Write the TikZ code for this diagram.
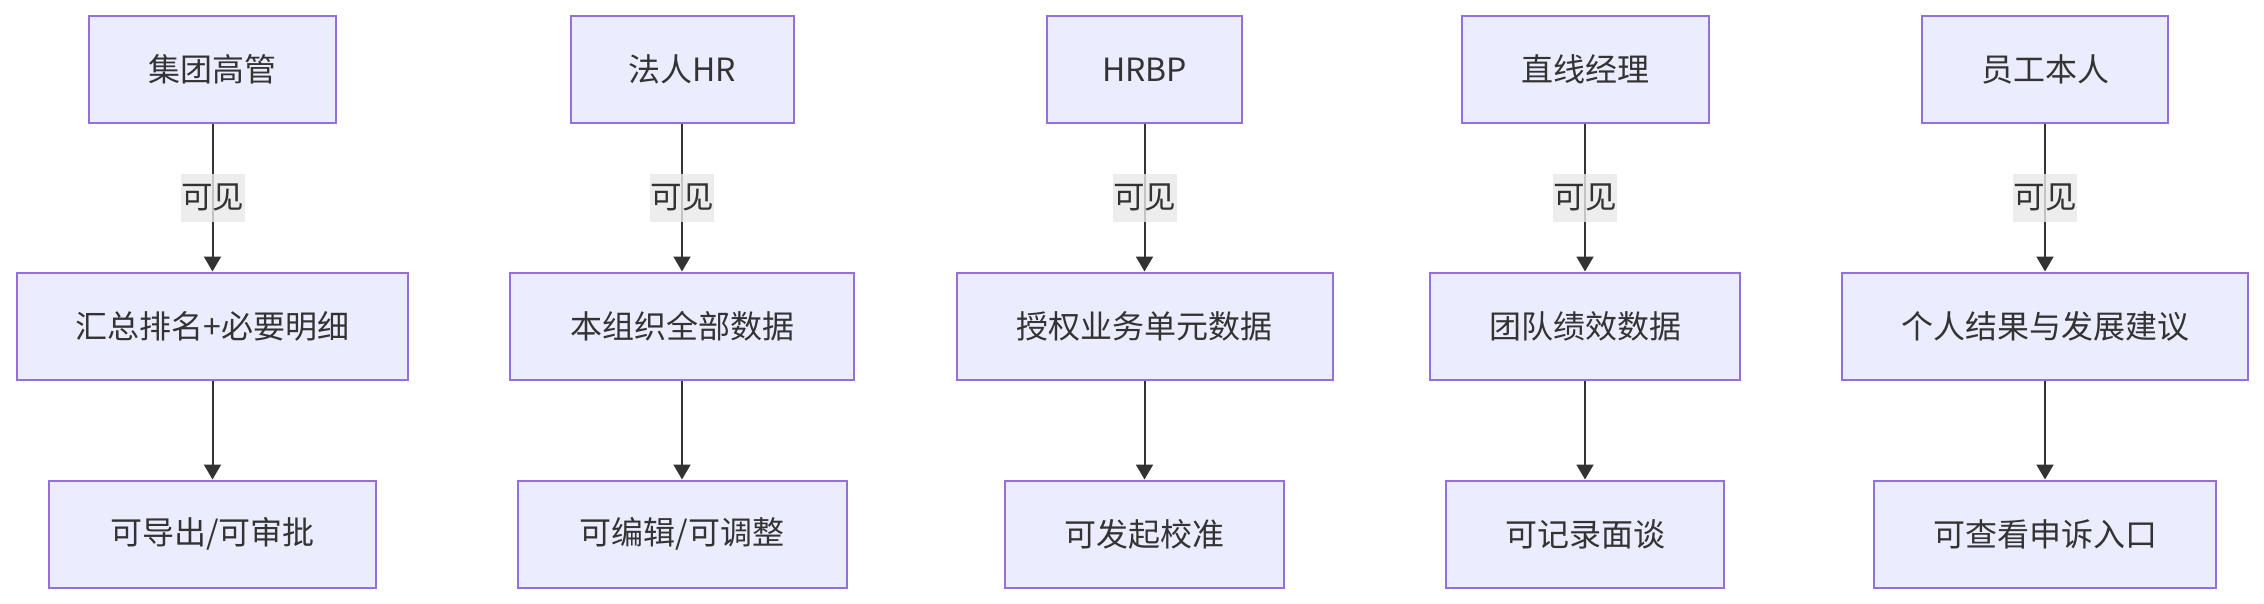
\documentclass[tikz,border=0pt]{standalone}
\usepackage{fontspec}
\setmainfont{Noto Sans CJK SC}
\usetikzlibrary{arrows.meta}
\definecolor{boxfill}{HTML}{ECECFF}
\definecolor{boxline}{HTML}{9370DB}
\definecolor{ink}{HTML}{333333}
\definecolor{lblbg}{HTML}{E8E8E8}
\begin{document}
\begin{tikzpicture}[x=1pt,y=-1pt,
  nbox/.style={rectangle, draw=boxline, fill=boxfill, line width=2pt, minimum height=107pt,
    text=ink, font=\fontsize{32}{37}\selectfont, inner sep=0pt},
  conn/.style={draw=ink, line width=2pt, -{Triangle[length=15pt,width=17pt]}},
  elabel/.style={fill=lblbg, fill opacity=0.8, text opacity=1, text=ink,
    font=\fontsize{31.5}{36}\selectfont, minimum width=64pt, minimum height=48pt, inner sep=0pt}]
\useasboundingbox (0,0) rectangle (2264,604);
% top row
\node[nbox, minimum width=247pt] (a1) at (212.5,69.7) {集团高管};
\node[nbox, minimum width=223pt] (a2) at (682,69.7) {法人HR};
\node[nbox, minimum width=195pt] (a3) at (1144.5,69.7) {HRBP};
\node[nbox, minimum width=247pt] (a4) at (1585,69.7) {直线经理};
\node[nbox, minimum width=246pt] (a5) at (2045,69.7) {员工本人};
% middle row
\node[nbox, minimum width=391pt] (b1) at (212.5,326) {汇总排名+必要明细};
\node[nbox, minimum width=344pt] (b2) at (682,326) {本组织全部数据};
\node[nbox, minimum width=376pt] (b3) at (1144.5,326) {授权业务单元数据};
\node[nbox, minimum width=310pt] (b4) at (1585,326) {团队绩效数据};
\node[nbox, minimum width=406pt] (b5) at (2045,326) {个人结果与发展建议};
% bottom row
\node[nbox, minimum width=327pt] (c1) at (212.5,534) {可导出/可审批};
\node[nbox, minimum width=329pt] (c2) at (682,534) {可编辑/可调整};
\node[nbox, minimum width=279pt] (c3) at (1144.5,534) {可发起校准};
\node[nbox, minimum width=278pt] (c4) at (1585,534) {可记录面谈};
\node[nbox, minimum width=342pt] (c5) at (2045,534) {可查看申诉入口};
% connectors
\foreach \i in {1,...,5} {
  \draw[conn] (a\i) -- node[elabel] {可见} (b\i);
  \draw[conn] (b\i) -- (c\i);
}
\end{tikzpicture}
\end{document}
